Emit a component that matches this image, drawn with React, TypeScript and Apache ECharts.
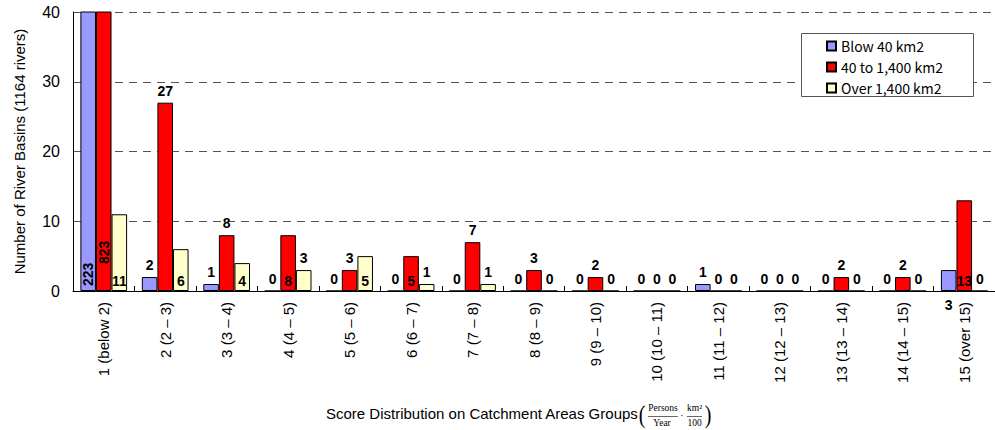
import React, { useEffect, useRef } from "react";
import * as echarts from "echarts";

const categories = [
  "1 (below 2)",
  "2 (2 – 3)",
  "3 (3 – 4)",
  "4 (4 – 5)",
  "5 (5 – 6)",
  "6 (6 – 7)",
  "7 (7 – 8)",
  "8 (8 – 9)",
  "9 (9 – 10)",
  "10 (10 – 11)",
  "11 (11 – 12)",
  "12 (12 – 13)",
  "13 (13 – 14)",
  "14 (14 – 15)",
  "15 (over 15)",
];
const seriesNames = ["Blow 40 km2", "40 to 1,400 km2", "Over 1,400 km2"];
const below40 = [223, 2, 1, 0, 0, 0, 0, 0, 0, 0, 1, 0, 0, 0, 3];
const from40to1400 = [823, 27, 8, 8, 3, 5, 7, 3, 2, 0, 0, 0, 2, 2, 13];
const over1400 = [11, 6, 4, 3, 5, 1, 1, 0, 0, 0, 0, 0, 0, 0, 0];
const yTicks = { min: 0, max: 40, interval: 10 };

const SANS = "Liberation Sans, Arial, sans-serif";
const SERIF = "Liberation Serif, Times New Roman, serif";

type Place = "top" | "inside" | "rot" | "below";

const baseLabel = {
  show: true,
  fontFamily: SANS,
  fontWeight: "bold" as const,
  fontSize: 14,
  color: "#000",
};

function labelFor(place: Place, rotDist = 6) {
  if (place === "rot")
    return { ...baseLabel, position: "insideBottom", rotate: 90, align: "left", verticalAlign: "middle", distance: rotDist };
  if (place === "inside") return { ...baseLabel, position: "insideBottom", distance: 3 };
  if (place === "below") return { ...baseLabel, position: "bottom", distance: 7 };
  return { ...baseLabel, position: "top", distance: 5 };
}

function build(values: number[], places: Record<number, Place>, rotDist = 6) {
  return values.map((v, i) => ({ value: v, label: labelFor(places[i] || "top", rotDist) }));
}

export default function App() {
  const ref = useRef<HTMLDivElement>(null);
  useEffect(() => {
    if (!ref.current) return;
    const chart = echarts.init(ref.current, null, { renderer: "svg" });
    const colors = ["#9999FF", "#FF0000", "#FFFFCC"];
    const itemStyleFor = (c: string) => ({ color: c, borderColor: "#000", borderWidth: 1 });
    chart.setOption({
      animation: false,
      backgroundColor: "#fff",
      grid: { left: 73, right: 0, top: 12, bottom: 139, containLabel: false },
      legend: {
        orient: "vertical",
        left: 801,
        top: 35,
        z: 10,
        icon: "rect",
        itemWidth: 9,
        itemHeight: 9,
        itemGap: 7,
        padding: [4, 10, 4, 25],
        textStyle: { fontFamily: "Noto Sans CJK JP, sans-serif", fontSize: 14, color: "#000", lineHeight: 14 },
        data: seriesNames,
      },
      xAxis: {
        type: "category",
        data: categories,
        boundaryGap: true,
        axisLine: { lineStyle: { color: "#000", width: 1 } },
        axisTick: { show: true, inside: true, length: 5, lineStyle: { color: "#000" } },
        axisLabel: { rotate: 90, margin: 11, fontFamily: SANS, fontSize: 15, color: "#000", interval: 0 },
        splitLine: { show: false },
      },
      yAxis: {
        type: "value",
        min: yTicks.min,
        max: yTicks.max,
        interval: yTicks.interval,
        name: "Number of River Basins (1164 rivers)",
        nameLocation: "middle",
        nameGap: 46,
        nameTextStyle: { fontFamily: SANS, fontSize: 15, color: "#000" },
        axisLine: { show: true, lineStyle: { color: "#000", width: 1 } },
        axisTick: { show: false },
        axisLabel: { margin: 13, fontFamily: SANS, fontSize: 16, color: "#000" },
        splitLine: { show: true, lineStyle: { color: "#555", type: [8, 6], width: 1 } },
      },
      series: [
        {
          name: seriesNames[0],
          type: "bar",
          barGap: "0%",
          barCategoryGap: "24%",
          clip: true,
          itemStyle: itemStyleFor(colors[0]),
          data: build(below40, { 0: "rot", 14: "below" }, 5),
        },
        {
          name: seriesNames[1],
          type: "bar",
          barGap: "0%",
          barCategoryGap: "24%",
          clip: true,
          itemStyle: itemStyleFor(colors[1]),
          data: build(from40to1400, { 0: "rot", 3: "inside", 5: "inside", 14: "inside" }, 27),
        },
        {
          name: seriesNames[2],
          type: "bar",
          barGap: "0%",
          barCategoryGap: "24%",
          clip: true,
          itemStyle: itemStyleFor(colors[2]),
          data: build(over1400, { 0: "inside", 1: "inside", 2: "inside", 4: "inside" }),
        },
      ],
      graphic: [
        {
          type: "rect",
          z: 1,
          shape: { x: 801.5, y: 33.5, width: 172, height: 63 },
          style: { fill: "#fff", stroke: "#555", lineWidth: 1 },
        },
        {
          type: "text",
          x: 326,
          y: 413,
          style: { text: "Score Distribution on Catchment Areas Groups", font: `15px ${SANS}`, fill: "#000", verticalAlign: "middle", align: "left" },
        },
        { type: "text", x: 642, y: 414, scaleY: 1.3, style: { text: "(", font: `20px ${SERIF}`, fill: "#000", align: "center", verticalAlign: "middle" } },
        { type: "text", x: 663, y: 408, style: { text: "Persons", font: `9.5px ${SERIF}`, fill: "#000", align: "center", verticalAlign: "middle" } },
        { type: "line", shape: { x1: 648, y1: 416.5, x2: 678, y2: 416.5 }, style: { stroke: "#000", lineWidth: 0.6 } },
        { type: "text", x: 662, y: 423, style: { text: "Year", font: `9.5px ${SERIF}`, fill: "#000", align: "center", verticalAlign: "middle" } },
        { type: "text", x: 682, y: 415, style: { text: "·", font: `10px ${SERIF}`, fill: "#000", align: "center", verticalAlign: "middle" } },
        { type: "text", x: 694.5, y: 408, style: { text: "km²", font: `9.5px ${SERIF}`, fill: "#000", align: "center", verticalAlign: "middle" } },
        { type: "line", shape: { x1: 687, y1: 416.5, x2: 702, y2: 416.5 }, style: { stroke: "#000", lineWidth: 0.6 } },
        { type: "text", x: 694.5, y: 423, style: { text: "100", font: `9.5px ${SERIF}`, fill: "#000", align: "center", verticalAlign: "middle" } },
        { type: "text", x: 708, y: 414, scaleY: 1.3, style: { text: ")", font: `20px ${SERIF}`, fill: "#000", align: "center", verticalAlign: "middle" } },
      ],
    });
    return () => chart.dispose();
  }, []);
  return <div ref={ref} style={{ position: "fixed", left: 0, top: 0, width: 995, height: 430 }} />;
}
